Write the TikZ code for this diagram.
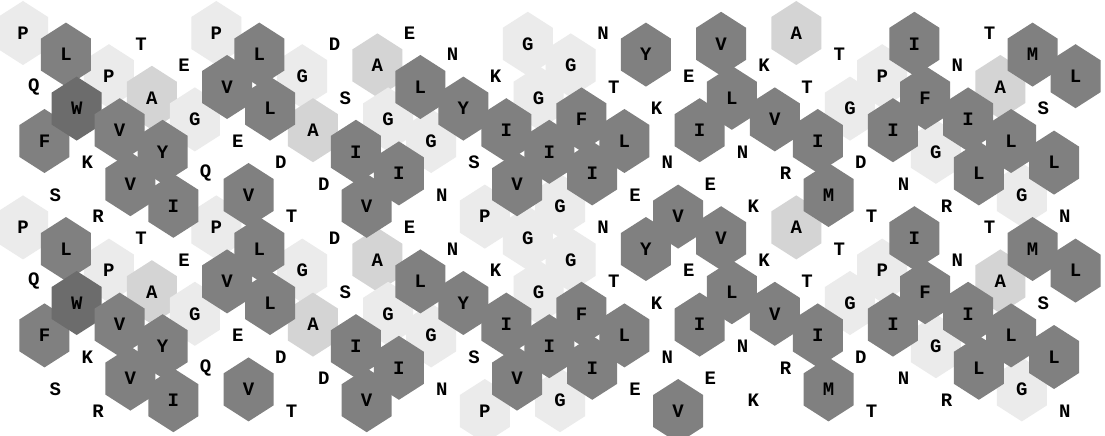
\documentclass[tikz,border=0pt]{standalone}
\usepackage{fontspec}
\usepackage{xcolor}
\usepackage{tikz}
\newfontfamily\resfont{Liberation Mono}
\definecolor{hydro}{HTML}{808080}
\definecolor{trpfill}{HTML}{6C6C6C}
\definecolor{alafill}{HTML}{D4D4D4}
\definecolor{glyfill}{HTML}{EBEBEB}

% residue / class (0 none, 1 G P, 2 A, 3 hydrophobic, 4 W)
\def\resseq{P/1,Q/0,F/3,S/0,L/3,W/4,K/0,R/0,P/1,V/3,
  V/3,T/0,A/2,Y/3,I/3,E/0,G/1,Q/0,P/1,V/3,
  E/0,V/3,L/3,L/3,D/0,T/0,G/1,A/2,D/0,D/0,
  S/0,I/3,V/3,A/2,G/1,I/3,E/0,L/3,G/1,N/0,
  N/0,Y/3,S/0,P/1,K/0,I/3,V/3,G/1,G/1,I/3,
  G/1,G/1,F/3,I/3,N/0,T/0,L/3,E/0,Y/3,K/0,
  N/0,V/3,E/0,I/3,E/0,V/3,L/3,N/0,K/0,K/0,
  V/3,R/0,A/2,T/0,I/3,M/3,T/0,G/1,D/0,T/0,
  P/1,I/3,N/0,I/3,F/3,G/1,R/0,N/0,I/3,L/3,
  T/0,A/2,L/3,G/1,M/3,S/0,L/3,N/0,L/3}

\begin{document}
\begin{tikzpicture}[x=1pt,y=-1pt,
  aa/.style={font=\resfont\bfseries\fontsize{19}{19}\selectfont,inner sep=0pt},
  cell1/.style={fill=glyfill}, cell2/.style={fill=alafill},
  cell3/.style={fill=hydro}, cell4/.style={fill=trpfill},
  hexcell/.pic={\path[pic actions] (0,-32) -- (25,-16) -- (25,16)
    -- (0,32) -- (-25,16) -- (-25,-16) -- cycle;}]
  \fill[white] (0,0) rectangle (1105,436);
  \useasboundingbox (0,0) rectangle (1105,436);
  \clip (0,0) rectangle (1105,436);
  % helical net, 100 deg per residue, shown twice
  \foreach \r/\c [count=\i from 0] in \resseq {
    \pgfmathsetmacro\px{23+10.74*\i}
    \pgfmathsetmacro\py{33+0.54*mod(100*\i,360)}
    \coordinate (p\i) at (\px,\py);
    \coordinate (q\i) at (\px,\py+194.4);
  }
  % light cells first, dark cells on top
  \foreach \r/\c [count=\i from 0] in \resseq {
    \ifnum\c>0\relax\ifnum\c<3\relax
      \pic[cell\c] at (p\i) {hexcell};
      \pic[cell\c] at (q\i) {hexcell};
    \fi\fi
  }
  \foreach \r/\c [count=\i from 0] in \resseq {
    \ifnum\c>2\relax
      \pic[cell\c] at (p\i) {hexcell};
      \pic[cell\c] at (q\i) {hexcell};
    \fi
  }
  \foreach \r/\c [count=\i from 0] in \resseq {
    \node[aa] (t\i) at (p\i) {\r};
    \node[aa] (b\i) at (q\i) {\r};
  }
\end{tikzpicture}
\end{document}
